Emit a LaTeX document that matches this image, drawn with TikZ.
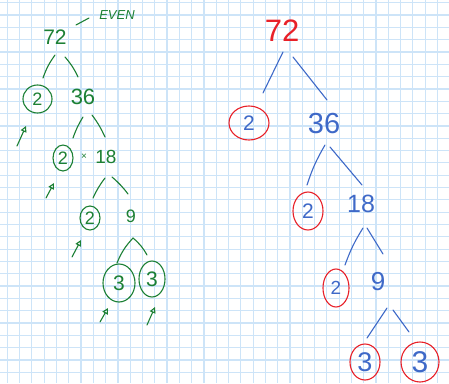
\documentclass[tikz,border=0pt]{standalone}
\usepackage{fontspec}
\setmainfont{Liberation Sans}
\usetikzlibrary{shapes.geometric,arrows.meta,calc}
\definecolor{gridblue}{RGB}{205,228,248}
\definecolor{pen}{RGB}{28,128,52}
\definecolor{bpen}{RGB}{62,105,200}
\definecolor{rpen}{RGB}{232,32,40}
\newcommand{\fs}[1]{\fontsize{#1}{#1}\selectfont}
\tikzset{
  gtxt/.style={text=pen,inner sep=0pt,font=\fs{#1}},
  gcirc/.style={ellipse,draw=pen,line width=1.1pt,text=pen,inner sep=0pt},
  gedge/.style={draw=pen,line width=1.1pt,line cap=round},
  garrow/.style={draw=pen,line width=1.1pt,line cap=round,-{Triangle[open,length=6pt,width=6pt]}},
  btxt/.style={text=bpen,inner sep=0pt,font=\fs{#1}},
  rcirc/.style={ellipse,draw=rpen,line width=1.1pt,text=bpen,inner sep=0pt},
  bedge/.style={draw=bpen,line width=1.1pt,line cap=round},
}
\begin{document}
\begin{tikzpicture}[x=1pt,y=-1pt]
\useasboundingbox (0,0) rectangle (449,383);
\fill[white] (0,0) rectangle (449,383);
% grid paper
\foreach \k in {0,...,35} {\draw[gridblue,line width=1.2pt] ({7.3+12.29*\k},0) -- ({7.3+12.29*\k},383);}
\foreach \k in {0,...,30} {\draw[gridblue,line width=1.2pt] (0,{2.7+12.32*\k}) -- (449,{2.7+12.32*\k});}

% ---------- left tree (green) ----------
\node[gtxt=21] (g72) at (55,37) {72};
\node[text=pen,inner sep=0pt,font=\fs{13}\itshape] (geven) at (117,15) {EVEN};
\node[gcirc,minimum width=29pt,minimum height=28pt,font=\fs{18}] (g2a) at (37.5,99) {2};
\node[gtxt=22] (g36) at (83,97) {36};
\node[gcirc,minimum width=20pt,minimum height=26pt,font=\fs{18}] (g2b) at (63,158) {2};
\node[gtxt=10] (gx) at (84,157) {×};
\node[gtxt=19] (g18) at (106,157) {18};
\node[gcirc,minimum width=20pt,minimum height=24pt,font=\fs{18}] (g2c) at (90,218) {2};
\node[gtxt=18] (g9) at (131,216) {9};
\node[gcirc,minimum width=32pt,minimum height=38pt,font=\fs{21}] (g3a) at (119,283) {3};
\node[gcirc,minimum width=26pt,minimum height=36pt,font=\fs{21}] (g3b) at (152,279) {3};

\draw[gedge] ($(geven)+(-41,10)$) -- ($(geven)+(-28,3)$);
\draw[gedge] ($(g72)+(0,18)$) to[bend right=8] ($(g2a)+(5.5,-21)$);
\draw[gedge] ($(g72)+(10,20)$) to[bend left=8] ($(g36)+(-5,-20)$);
\draw[gedge] ($(g36)+(0,20)$) to[bend right=6] ($(g2b)+(10,-20)$);
\draw[gedge] ($(g36)+(9,18)$) to[bend left=6] ($(g18)+(-1,-20)$);
\draw[gedge] ($(g18)+(-1,21)$) to[bend right=6] ($(g2c)+(3,-20)$);
\draw[gedge] ($(g18)+(6,20)$) to[bend left=6] ($(g9)+(-3,-22)$);
\draw[gedge] ($(g9)+(2,22)$) to[bend right=10] ($(g3a)+(-2,-20)$);
\draw[gedge] ($(g9)+(2,22)$) to[bend left=10] ($(g3b)+(-5,-24)$);

\draw[garrow] ($(g2a)+(-20.5,47)$) -- ($(g2a)+(-11.5,27)$);
\draw[garrow] ($(g2b)+(-17,40)$) -- ($(g2b)+(-9,25)$);
\draw[garrow] ($(g2c)+(-18,39)$) -- ($(g2c)+(-9,22)$);
\draw[garrow] ($(g3a)+(-19,39)$) -- ($(g3a)+(-11,25)$);
\draw[garrow] ($(g3b)+(-5,46)$) -- ($(g3b)+(3,28)$);

% ---------- right tree (blue / red) ----------
\node[inner sep=0pt,text=rpen,font=\fs{31}] (r72) at (282,31) {72};
\node[rcirc,minimum width=40pt,minimum height=34pt,font=\fs{21}] (r2a) at (249,123) {2};
\node[btxt=29] (r36) at (324,124) {36};
\node[rcirc,minimum width=30pt,minimum height=38pt,font=\fs{21}] (r2b) at (308,211) {2};
\node[btxt=25] (r18) at (361,204) {18};
\node[rcirc,minimum width=26pt,minimum height=38pt,font=\fs{19}] (r2c) at (336,288) {2};
\node[btxt=26] (r9) at (378,282) {9};
\node[rcirc,minimum width=30pt,minimum height=36pt,font=\fs{27}] (r3a) at (365,362) {3};
\node[rcirc,minimum width=38pt,minimum height=40pt,font=\fs{30}] (r3b) at (420,362) {3};

\draw[bedge] ($(r72)+(1,21)$) -- ($(r2a)+(14,-30)$);
\draw[bedge] ($(r72)+(11,26)$) -- ($(r36)+(3,-24)$);
\draw[bedge] ($(r36)+(1,21)$) to[bend right=6] ($(r2b)+(-1,-26)$);
\draw[bedge] ($(r36)+(6,23)$) -- ($(r18)+(1,-19)$);
\draw[bedge] ($(r18)+(2,24)$) to[bend right=6] ($(r2c)+(9,-23)$);
\draw[bedge] ($(r18)+(6,24)$) -- ($(r9)+(5,-28)$);
\draw[bedge] ($(r9)+(9,26)$) -- ($(r3a)+(2,-24)$);
\draw[bedge] ($(r9)+(15,28)$) -- ($(r3b)+(-11,-30)$);
\end{tikzpicture}
\end{document}
